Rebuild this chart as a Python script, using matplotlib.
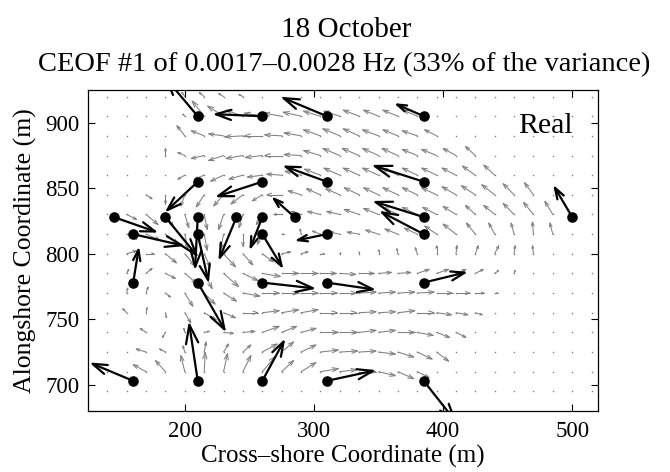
import numpy as np
import matplotlib
matplotlib.use('Agg')
import matplotlib.pyplot as plt
from matplotlib.collections import LineCollection

# ---------------- data ----------------
title_line1 = "18 October"
title_line2 = "CEOF #1 of 0.0017\u20130.0028 Hz (33% of the variance)"
x_label = "Cross\u2013shore Coordinate (m)"
y_label = "Alongshore Coordinate (m)"
panel_label = "Real"

x_ticks = [200, 300, 400, 500]
y_ticks = [700, 750, 800, 850, 900]

# gray (mapped) field grid
grid_x = [140, 155, 170, 185, 200, 215, 230, 245, 260, 275, 290, 305, 320,
          335, 350, 365, 380, 395, 410, 425, 440, 455, 470, 485, 500, 515]
grid_y = [920, 905, 890, 875, 860, 845, 830, 815, 800, 785, 770, 755, 740,
          725, 710, 695]

gray_u = [
    [0, 0, 0, 0, -3, -5, -5, -4, 0, 0, 0, 0, 0, 0, 0, 0, 0, 0, 0, 0, 0, 0, 0, 0, 0, 0],
    [0, 0, 0, 0, -2, -12, -16, -17, -18, -18, -18, -17, -16, -16, -15, -15, -14, 0, 0, 0, 0, 0, 0, 0, 0, 0],
    [0, 0, 0, 0, -8, -13, -15, -18, -18, -17, -17, -17, -17, -16, -16, -15, -15, -12, 0, 0, 0, 0, 0, 0, 0, 0],
    [0, 0, 0, 0, -7, -13, -15, -17, -17, -17, -17, -17, -17, -17, -16, -16, -15, -15, -13, -10, 0, 0, 0, 0, 0, 0],
    [0, 0, 0, 0, -7, -10, -13, -14, -15, -15, -16, -16, -16, -16, -16, -16, -15, -15, -14, -13, -11, 0, 0, 0, 0, 0],
    [0, 0, 6, 0, -4, -8, -10, -12, -10, -15, -13, -14, -14, -15, -15, -15, -15, -15, -14, -14, -13, -11, -9, 0, 0, 0],
    [0, 10, 12, 8, 4, 3, -5, -4, -6, -8, -10, -13, -13, -15, -15, -15, -15, -14, -13, -10, -11, -11, -10, -8, 0, 0],
    [0, 10, 14, 13, 3, 3, -3, 0, -5, 2, -1, -8, -10, -12, -13, -13, -13, -12, -13, -9, -6, -3, -1, -3, 0, 0],
    [0, 10, 8, 11, 10, 6, 12, 10, 11, 9, 7, 4, 1, 0, 0, -1, -2, 0, 1, 3, 4, 1, -1, 0, 0, 0],
    [0, 2, 6, 10, 12, 8, 15, 15, 18, 17, 17, 16, 16, 15, 13, 13, 12, 12, 10, 8, 4, 1, 0, 0, 0, 0],
    [0, 1, 2, 5, 8, 11, 13, 17, 17, 17, 17, 17, 17, 17, 17, 17, 17, 16, 14, 9, 3, 0, 0, 0, 0, 0],
    [0, -4, 1, 1, 6, 12, 12, 15, 17, 17, 17, 17, 17, 17, 17, 17, 17, 15, 12, 7, 0, 0, 0, 0, 0, 0],
    [0, 0, -6, -3, -1, 5, 10, 12, 17, 15, 15, 18, 18, 17, 17, 17, 16, 13, 10, 0, 0, 0, 0, 0, 0, 0],
    [0, 0, -10, -6, -2, 2, 5, 8, 15, 12, 15, 18, 18, 17, 17, 16, 15, 12, 0, 0, 0, 0, 0, 0, 0, 0],
    [0, 0, -13, -10, -4, 1, 4, 8, 13, 12, 15, 18, 17, 17, 17, 16, 12, 0, 0, 0, 0, 0, 0, 0, 0, 0],
    [0, 0, 0, 0, 0, 0, 0, 0, 0, 0, 0, 0, 0, 0, 0, 0, 0, 0, 0, 0, 0, 0, 0, 0, 0, 0],
]
gray_v = [
    [0, 0, 0, 0, 4, 4, 3, 2, 0, 0, 0, 0, 0, 0, 0, 0, 0, 0, 0, 0, 0, 0, 0, 0, 0, 0],
    [0, 0, 0, 0, 2, 15, 10, 6, 3, 3, 4, 5, 5, 6, 6, 6, 6, 0, 0, 0, 0, 0, 0, 0, 0, 0],
    [0, 0, 0, 0, 10, 5, 2, -1, 0, 1, 3, 6, 7, 7, 6, 6, 5, 6, 0, 0, 0, 0, 0, 0, 0, 0],
    [0, 0, 0, 7, 3, -3, -5, -3, -2, 0, 1, 5, 7, 7, 7, 7, 6, 6, 7, 9, 0, 0, 0, 0, 0, 0],
    [0, 0, 0, 0, -4, -4, -6, -4, -2, 1, 4, 6, 7, 7, 7, 7, 7, 7, 7, 9, 10, 0, 0, 0, 0, 0],
    [0, 0, -4, -9, -11, -12, -11, -9, -6, 0, 4, 6, 6, 7, 7, 7, 7, 7, 8, 9, 10, 11, 12, 0, 0, 0],
    [0, -5, -10, -12, -13, -15, -15, -13, -10, 0, 3, 3, 3, 5, 6, 7, 7, 7, 8, 9, 9, 11, 12, 13, 0, 0],
    [0, -5, -6, -10, -15, -16, -15, -12, -10, 0, 5, 3, 2, 2, 4, 5, 6, 8, 10, 11, 11, 11, 12, 11, 0, 0],
    [0, 3, 0, -9, -12, -13, -13, -11, -8, 2, 2, 0, 1, 2, 4, 5, 6, 8, 8, 8, 8, 8, 8, 0, 0, 0],
    [0, 4, 5, -5, -10, -15, -13, -7, -3, 0, 0, 0, -1, 0, 1, 1, 4, 4, 4, 4, 3, 3, 0, 0, 0, 0],
    [0, 5, 6, -4, -13, -11, -8, -3, 0, 0, 0, 0, 0, 1, 1, 1, 1, 0, 0, 0, 0, 0, 0, 0, 0, 0],
    [0, 4, 5, -5, -10, -7, -5, 0, 2, 3, 3, 0, 0, 1, 1, 2, 0, -2, -2, -2, 0, 0, 0, 0, 0, 0],
    [0, 0, 4, -5, 4, 1, -1, 1, 6, 6, 4, 0, 0, 2, 2, 0, -3, -5, -5, 0, 0, 0, 0, 0, 0, 0],
    [0, 0, 3, 3, 6, 10, 8, 7, 8, 10, 7, 2, 1, 1, -2, -5, -7, -9, 0, 0, 0, 0, 0, 0, 0, 0],
    [0, 0, 7, 11, 16, 19, 18, 16, 15, 11, 9, 3, 2, 0, -4, -7, -6, 0, 0, 0, 0, 0, 0, 0, 0, 0],
    [0, 0, 0, 0, 0, 0, 0, 0, 0, 0, 0, 0, 0, 0, 0, 0, 0, 0, 0, 0, 0, 0, 0, 0, 0, 0],
]

# measured (instrument) vectors
inst_x = [210, 260, 310, 385, 210, 260, 310, 385, 145, 185, 210, 240, 260, 285,
          385, 500, 160, 210, 260, 310, 385, 160, 210, 260, 310, 385,
          160, 210, 260, 310, 385]
inst_y = [905, 905, 905, 905, 855, 855, 855, 855, 828, 828, 828, 828, 828, 828,
          828, 828, 815, 815, 815, 815, 815, 778, 778, 778, 778, 778,
          703, 703, 703, 703, 703]
inst_u = [-24, -36, -33.5, -20.6, -23.6, -34.3, -32, -38, 32, 24, -2, -13, -9, -16,
          -37.4, -13.4, 37.6, 8, 15, -22.5, -32.3, 4.1, 20.7, 39.2, 35.6, 31.8,
          -31.5, -6.5, 16.5, 35.6, 24]
inst_v = [28, 1.5, 13.8, 8.9, -21.7, -11, 11.5, 12, -11, -29, -38, -31, -23, 14,
          11.5, 22.4, -8.5, -35, -24.5, -4.6, 16.6, 25, -35.7, -4.3, -5.1, 7.6,
          13, 42.8, 30, 7.6, -30]

GRAY_SCALE = 0.77   # metres of arrow per velocity unit (gray field)
INST_SCALE = 1.0    # metres of arrow per velocity unit (instruments)

# ---------------- figure ----------------
plt.rcParams['font.family'] = ['Liberation Serif', 'DejaVu Serif']

W, H, DPI = 670, 472, 100
fig = plt.figure(figsize=(W / DPI, H / DPI), dpi=DPI)
ax_rect = [88 / W, 1 - 411 / H, (598 - 88) / W, (411 - 90) / H]
ax = fig.add_axes(ax_rect)
xlim = (125, 520)
ylim = (680, 925)
ax.set_xlim(*xlim)
ax.set_ylim(*ylim)

# pixels per data unit, for MATLAB-like arrowheads computed in screen space
sx = ax_rect[2] * W / (xlim[1] - xlim[0])
sy = ax_rect[3] * H / (ylim[1] - ylim[0])


def arrow_segments(x, y, u, v, alpha=0.33, beta=0.33):
    segs = []
    for xi, yi, ui, vi in zip(x, y, u, v):
        if ui == 0 and vi == 0:
            continue
        px, py = xi * sx, yi * sy
        U, V = ui * sx, vi * sy
        tx, ty = px + U, py + V
        h1 = (tx - alpha * (U + beta * V), ty - alpha * (V - beta * U))
        h2 = (tx - alpha * (U - beta * V), ty - alpha * (V + beta * U))
        segs.append([(xi, yi), (tx / sx, ty / sy)])
        segs.append([(h1[0] / sx, h1[1] / sy), (tx / sx, ty / sy),
                     (h2[0] / sx, h2[1] / sy)])
    return segs


gx, gy = np.meshgrid(grid_x, grid_y)
gu = np.array(gray_u, dtype=float) * GRAY_SCALE
gv = np.array(gray_v, dtype=float) * GRAY_SCALE

gray = '#808080'
ax.plot(gx.ravel(), gy.ravel(), linestyle='none', marker='s', ms=1.0,
        mew=0, color=gray, zorder=1)
lc = LineCollection(arrow_segments(gx.ravel(), gy.ravel(), gu.ravel(), gv.ravel()),
                    colors=gray, linewidths=0.75, zorder=2, capstyle='round',
                    joinstyle='miter')
ax.add_collection(lc)

iu = np.array(inst_u) * INST_SCALE
iv = np.array(inst_v) * INST_SCALE
lc2 = LineCollection(arrow_segments(inst_x, inst_y, iu, iv),
                     colors='black', linewidths=1.6, zorder=3, capstyle='round',
                     joinstyle='miter')
ax.add_collection(lc2)
ax.plot(inst_x, inst_y, linestyle='none', marker='o', ms=6.6, color='black',
        zorder=4)

ax.text(0.951, 0.867, panel_label, transform=ax.transAxes, ha='right',
        va='baseline', fontsize=21.5)

ax.set_xticks(x_ticks)
ax.set_yticks(y_ticks)
ax.tick_params(direction='in', top=True, right=True, length=5, width=0.8,
               labelsize=16.5)
ax.tick_params(axis='x', pad=7)
ax.tick_params(axis='y', pad=6)
for s in ax.spines.values():
    s.set_linewidth(0.9)

ax.set_xlabel(x_label, fontsize=18, labelpad=2)
ax.set_ylabel(y_label, fontsize=18.5, labelpad=6)

fig.text(0.516, 1 - 36.7 / H, title_line1, ha='center', va='baseline',
         fontsize=21)
fig.text(0.514, 1 - 71.0 / H, title_line2, ha='center', va='baseline',
         fontsize=20.5)

fig.savefig('out.png', dpi=DPI)
